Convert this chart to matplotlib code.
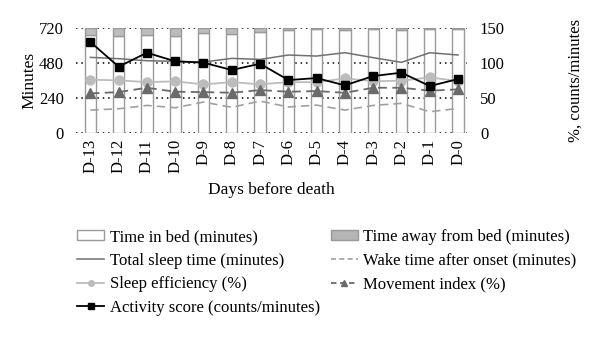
import numpy as np
import matplotlib
matplotlib.use('Agg')
import matplotlib.pyplot as plt
from matplotlib.patches import Patch
from matplotlib.lines import Line2D

plt.rcParams['font.family'] = ['Liberation Serif', 'DejaVu Serif']
plt.rcParams['font.size'] = 12

# data
days = ['D-13', 'D-12', 'D-11', 'D-10', 'D-9', 'D-8', 'D-7',
        'D-6', 'D-5', 'D-4', 'D-3', 'D-2', 'D-1', 'D-0']
time_away = [46, 50, 44, 55, 34, 41, 27, 11, 5, 15, 5, 10, 3, 3]
time_in_bed = [720 - a for a in time_away]
total_sleep = [521, 512, 498, 494, 489, 514, 507, 537, 530, 553, 519, 487, 553, 537]
waso = [160, 169, 192, 176, 215, 179, 222, 181, 194, 160, 192, 206, 149, 171]
sleep_eff = [76.7, 75.7, 73.3, 74.3, 70.0, 73.3, 70.0, 73.3, 73.0, 78.6, 74.5, 75.2, 80.0, 74.7]
movement = [57.1, 59.0, 65.2, 59.5, 59.0, 58.1, 61.9, 59.5, 60.5, 58.0, 65.2, 65.2, 61.0, 62.9]
activity = [130.5, 95.2, 115.2, 102.9, 101.0, 90.5, 99.5, 76.2, 79.0, 68.6, 81.9, 86.7, 67.6, 77.6]

x = np.arange(len(days))

fig = plt.figure(figsize=(6, 3.37), dpi=100)
ax = fig.add_axes([0.127, 0.604, 0.652, 0.312])
ax2 = ax.twinx()

# bars (stacked)
ax.bar(x, time_in_bed, width=0.4, color='white', edgecolor='#9a9a9a', linewidth=1, zorder=2)
ax.bar(x, time_away, width=0.4, bottom=time_in_bed, color='#bdbdbd', edgecolor='#9a9a9a',
       linewidth=1, zorder=2)

ax.plot(x, total_sleep, color='#707070', lw=1.1, zorder=3)
ax.plot(x, waso, color='#a0a0a0', lw=1.2, ls=(0, (5, 3)), zorder=3)

ax2.plot(x, sleep_eff, color='#bcbcbc', lw=1.3, marker='o', ms=6.5, zorder=3)
ax2.plot(x, movement, color='#6a6a6a', lw=1.3, ls=(0, (5, 3)), marker='^', ms=6.5, zorder=3)
ax2.plot(x, activity, color='black', lw=1.3, marker='s', ms=6, zorder=4)

ax.set_xlim(-0.5, 13.33)
ax.set_ylim(0, 720)
ax2.set_ylim(0, 150)
ax.set_yticks([0, 240, 480, 720])
ax2.set_yticks([0, 50, 100, 150])
ax.set_xticks(x)
ax.set_xticklabels(days, rotation=90)

for a in (ax, ax2):
    for s in a.spines.values():
        s.set_visible(False)
    a.tick_params(length=0, labelsize=12)
ax.tick_params(axis='y', pad=9)
ax2.tick_params(axis='y', pad=9)
ax.tick_params(axis='x', pad=4)

ax.yaxis.grid(True, color='black', ls=(0, (1, 2.5)), lw=1.1, zorder=0)
ax.set_axisbelow(True)

ax.set_ylabel('Minutes', fontsize=12.5, labelpad=1)
ax2.set_ylabel('%, counts/minutes', fontsize=12, labelpad=45)
ax.set_xlabel('Days before death', fontsize=12.5, labelpad=6)

handles = [
    Patch(facecolor='white', edgecolor='#9a9a9a', label='Time in bed (minutes)'),
    Line2D([], [], color='#707070', lw=1.1, label='Total sleep time (minutes)'),
    Line2D([], [], color='#bcbcbc', lw=1.3, marker='o', ms=4, label='Sleep efficiency (%)'),
    Line2D([], [], color='black', lw=1.3, marker='s', ms=4, label='Activity score (counts/minutes)'),
    Patch(facecolor='#b5b5b5', edgecolor='#9a9a9a', label='Time away from bed (minutes)'),
    Line2D([], [], color='#a0a0a0', lw=1.2, ls=(0, (3, 2)), label='Wake time after onset (minutes)'),
    Line2D([], [], color='#6a6a6a', lw=1.3, ls=(0, (3, 2)), marker='^', ms=4, label='Movement index (%)'),
]
fig.legend(handles=handles, ncol=2, loc='upper left', bbox_to_anchor=(0.118, 0.34),
           frameon=False, fontsize=12, handlelength=1.6, handleheight=0.5,
           handletextpad=0.35, labelspacing=0.45, columnspacing=0.65, borderaxespad=0)

fig.savefig('out.png', dpi=100)
